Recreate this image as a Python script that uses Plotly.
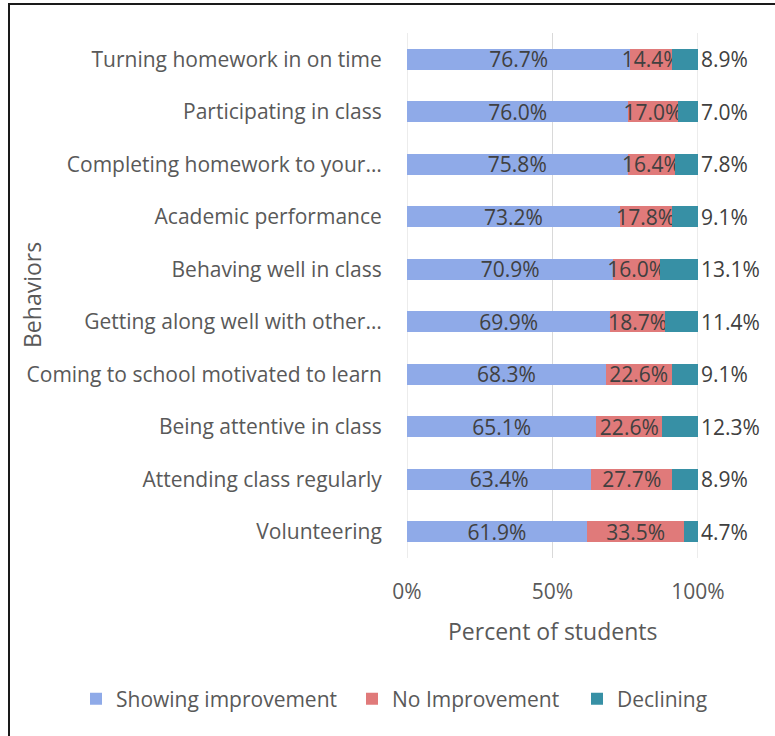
import plotly.graph_objects as go

categories = [
    "Turning homework in on time",
    "Participating in class",
    "Completing homework to your…",
    "Academic performance",
    "Behaving well in class",
    "Getting along well with other…",
    "Coming to school motivated to learn",
    "Being attentive in class",
    "Attending class regularly",
    "Volunteering",
]
showing_improvement = [76.7, 76.0, 75.8, 73.2, 70.9, 69.9, 68.3, 65.1, 63.4, 61.9]
no_improvement = [14.4, 17.0, 16.4, 17.8, 16.0, 18.7, 22.6, 22.6, 27.7, 33.5]
declining = [8.9, 7.0, 7.8, 9.1, 13.1, 11.4, 9.1, 12.3, 8.9, 4.7]
x_ticks = [0, 50, 100]
x_tick_labels = ["0%", "50%", "100%"]

W, H = 775, 736
L, R, T, B = 407, 77, 33, 178
PW, PH = W - L - R, H - T - B


def px_x(x):
    return (x - L) / PW


def px_y(y):
    return (H - B - y) / PH


totals = [a + b + c for a, b, c in zip(showing_improvement, no_improvement, declining)]


def norm(vals):
    return [v / t * 100 for v, t in zip(vals, totals)]


FONT = "Open Sans"
FS = 21
TITLE_FS = 23
LABEL_COLOR = "#404040"
AXIS_COLOR = "#595959"
GRID_COLOR = "#D9D9D9"

series = [
    ("Showing improvement", showing_improvement, "#8FAAE8", "inside", "legend", 76),
    ("No Improvement", no_improvement, "#E07A7A", "inside", "legend2", 352),
    ("Declining", declining, "#3790A5", "outside", "legend3", 577),
]

fig = go.Figure()
legends = {}
for name, vals, color, pos, leg, lx in series:
    fig.add_trace(go.Bar(
        y=categories,
        x=norm(vals),
        name=name,
        orientation="h",
        marker=dict(color=color, line=dict(width=0)),
        text=[f"{v:.1f}%" for v in vals],
        textposition=pos,
        insidetextanchor="middle",
        textangle=0,
        textfont=dict(family=FONT, size=FS, color=LABEL_COLOR),
        cliponaxis=False,
        hoverinfo="skip",
        legend=leg,
    ))
    legends[leg] = dict(
        orientation="h",
        x=px_x(lx), y=px_y(699),
        xanchor="left", yanchor="middle",
        font=dict(family=FONT, size=FS, color=AXIS_COLOR),
        itemwidth=30,
        bgcolor="rgba(0,0,0,0)",
    )

grid_shapes = [
    dict(type="line", xref="x", yref="paper", x0=v, x1=v, y0=0, y1=1,
         line=dict(color=GRID_COLOR, width=1), layer="below")
    for v in x_ticks
]

fig.update_layout(
    width=W, height=H,
    margin=dict(l=L, r=R, t=T, b=B, autoexpand=False),
    barmode="stack",
    bargap=0.6,
    plot_bgcolor="white",
    paper_bgcolor="white",
    font=dict(family=FONT, color=AXIS_COLOR, size=FS),
    uniformtext=dict(mode="show", minsize=FS),
    showlegend=True,
    xaxis=dict(
        range=[0, 100.001],
        tickvals=x_ticks,
        ticktext=x_tick_labels,
        showgrid=False,
        zeroline=False,
        showline=False,
        ticks="outside",
        ticklen=15,
        tickcolor="rgba(0,0,0,0)",
        tickfont=dict(family=FONT, size=FS, color=AXIS_COLOR),
    ),
    yaxis=dict(
        autorange="reversed",
        showgrid=False,
        zeroline=False,
        showline=False,
        ticks="outside",
        ticklen=20,
        tickcolor="rgba(0,0,0,0)",
        tickfont=dict(family=FONT, size=FS, color=AXIS_COLOR),
    ),
    annotations=[
        dict(text="Behaviors", xref="paper", yref="paper", x=px_x(32), y=px_y(295),
             showarrow=False, textangle=-90, xanchor="center", yanchor="middle",
             font=dict(family=FONT, size=TITLE_FS, color=AXIS_COLOR)),
        dict(text="Percent of students", xref="paper", yref="paper", x=px_x(552), y=px_y(631),
             showarrow=False, xanchor="center", yanchor="middle",
             font=dict(family=FONT, size=TITLE_FS, color=AXIS_COLOR)),
    ],
    shapes=grid_shapes + [
        dict(type="rect", xref="paper", yref="paper",
             x0=px_x(9), x1=px_x(790), y0=px_y(4), y1=px_y(750),
             line=dict(color="#1a1a1a", width=2), fillcolor="rgba(0,0,0,0)", layer="above"),
    ],
    **legends,
)

fig.write_html("out.html", config={"displayModeBar": False},
               post_script="document.body.style.margin='0px';")
